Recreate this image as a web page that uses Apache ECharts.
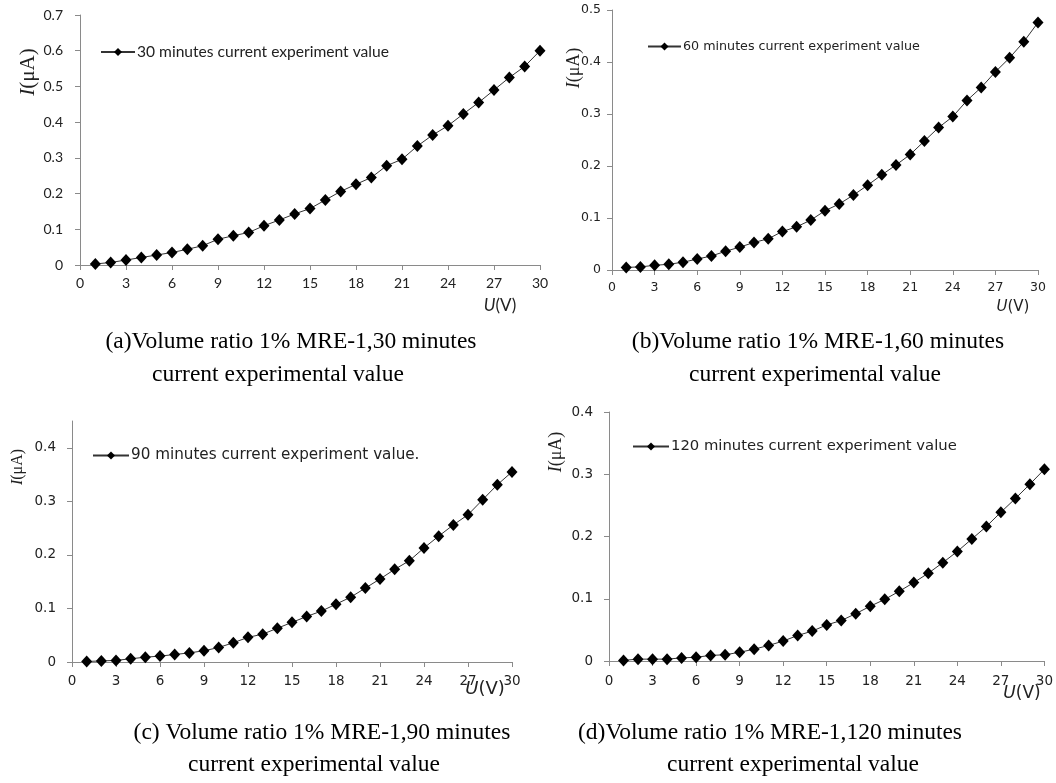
<!DOCTYPE html>
<html>
<head>
<meta charset="utf-8">
<title>I–U curves, volume ratio 1% MRE-1</title>
<script src="https://cdn.jsdelivr.net/npm/echarts@6/dist/echarts.min.js"></script>
<style>
  html, body { margin: 0; padding: 0; background: #ffffff; }
  #chart { width: 1056px; height: 783px; }
</style>
</head>
<body>
<div id="chart"></div>
<script>
// Applied voltage U (V)
const voltage = [1,2,3,4,5,6,7,8,9,10,11,12,13,14,15,16,17,18,19,20,21,22,23,24,25,26,27,28,29,30];

// Measured current I (µA) after each soaking time
const current30 = [0.003,0.007,0.014,0.021,0.028,0.035,0.044,0.054,0.072,0.082,0.091,0.110,0.126,0.143,0.158,
                   0.182,0.206,0.226,0.245,0.278,0.296,0.333,0.364,0.390,0.423,0.455,0.490,0.525,0.556,0.600];
const current60 = [0.005,0.006,0.009,0.011,0.015,0.021,0.027,0.036,0.044,0.053,0.060,0.074,0.083,0.096,0.114,
                   0.127,0.144,0.163,0.183,0.202,0.222,0.248,0.274,0.295,0.326,0.351,0.381,0.408,0.439,0.476];
const current90 = [0.001,0.002,0.003,0.006,0.009,0.011,0.014,0.017,0.021,0.027,0.036,0.046,0.052,0.063,0.074,
                   0.085,0.095,0.108,0.121,0.138,0.155,0.173,0.189,0.213,0.235,0.256,0.275,0.303,0.331,0.355];
const current120 = [0.001,0.003,0.003,0.003,0.005,0.006,0.009,0.010,0.014,0.019,0.025,0.032,0.041,0.048,0.058,
                    0.065,0.076,0.088,0.099,0.112,0.126,0.141,0.158,0.176,0.196,0.216,0.239,0.261,0.284,0.308];

// Axis ticks
const xTicks = [0,3,6,9,12,15,18,21,24,27,30];
const yTicks30 = [0,0.1,0.2,0.3,0.4,0.5,0.6,0.7];
const yTicks60 = [0,0.1,0.2,0.3,0.4,0.5];
const yTicks90 = [0,0.1,0.2,0.3,0.4];
const yTicks120 = [0,0.1,0.2,0.3,0.4];

// Legend names and captions
const seriesNames = [
  '30 minutes current experiment value',
  '60 minutes current experiment value',
  '90 minutes current experiment value.',
  '120 minutes current experiment value'
];
const captions = [
  ['(a)Volume ratio 1% MRE-1,30 minutes', 'current experimental value'],
  ['(b)Volume ratio 1% MRE-1,60 minutes', 'current experimental value'],
  ['(c) Volume ratio 1% MRE-1,90 minutes', 'current experimental value'],
  ['(d)Volume ratio 1% MRE-1,120 minutes', 'current experimental value']
];

// Layout of the four panels
const panels = [
  { data: current30,  yTicks: yTicks30,  yMax: 0.7,  grid: { left: 80,  top: 15,  width: 460, height: 250 },
    font: 'Lato', fs: 14, yMargin: 17, xMargin: 11,
    legend: { left: 100, top: 44, w: 34, fs: 15.6 },
    yName: [28, 72, 21], uName: [500, 306, 17],
    cap: [[291, 342], [278, 375]] },
  { data: current60,  yTicks: yTicks60,  yMax: 0.5,  grid: { left: 612, top: 10,  width: 426, height: 260 },
    font: 'DejaVu Sans', fs: 12.5, yMargin: 11, xMargin: 11,
    legend: { left: 647, top: 40, w: 33, fs: 12.7 },
    yName: [574, 68, 18], uName: [1013, 307, 15],
    cap: [[818, 342], [815, 375]] },
  { data: current90,  yTicks: yTicks90,  yMax: 0.45, grid: { left: 72,  top: 421, width: 440, height: 241 },
    font: 'DejaVu Sans', fs: 13.5, yMargin: 16, xMargin: 12,
    legend: { left: 92,  top: 448, w: 36, fs: 15.2 },
    yName: [18, 467, 16], uName: [485, 689, 18],
    cap: [[322, 733], [314, 765]] },
  { data: current120, yTicks: yTicks120, yMax: 0.4,  grid: { left: 609, top: 412, width: 436, height: 249 },
    font: 'DejaVu Sans', fs: 13.5, yMargin: 16, xMargin: 13,
    legend: { left: 632, top: 439, w: 36, fs: 14.8 },
    yName: [556, 452, 18], uName: [1022, 694, 17],
    cap: [[770, 733], [793, 765]] }
];

const axisGray = '#8a8a8a';
const textDark = '#222222';

const option = {
  backgroundColor: '#ffffff',
  animation: false,
  grid: [], xAxis: [], yAxis: [], series: [], legend: [], graphic: []
};

panels.forEach((p, i) => {
  option.grid.push(Object.assign({ containLabel: false }, p.grid));

  option.xAxis.push({
    type: 'value', gridIndex: i, min: 0, max: 30, interval: 3,
    axisLine: { show: true, onZero: false, lineStyle: { color: axisGray, width: 1 } },
    axisTick: { show: true, length: 5, lineStyle: { color: axisGray } },
    axisLabel: { margin: p.xMargin, color: textDark, fontFamily: p.font, fontSize: p.fs,
                 customValues: xTicks },
    splitLine: { show: false }
  });

  option.yAxis.push({
    type: 'value', gridIndex: i, min: 0, max: p.yMax, interval: 0.1,
    axisLine: { show: true, onZero: false, lineStyle: { color: axisGray, width: 1 } },
    axisTick: { show: true, length: 5, lineStyle: { color: axisGray }, customValues: p.yTicks },
    axisLabel: { margin: p.yMargin, color: textDark, fontFamily: p.font, fontSize: p.fs,
                 customValues: p.yTicks,
                 formatter: v => (v === 0 ? '0' : v.toFixed(1)) },
    splitLine: { show: false }
  });

  option.series.push({
    type: 'line', name: seriesNames[i], xAxisIndex: i, yAxisIndex: i,
    data: voltage.map((u, k) => [u, p.data[k]]),
    symbol: 'diamond', symbolSize: [11, 12],
    itemStyle: { color: '#000000' },
    lineStyle: { color: '#333333', width: 1 },
    emphasis: { disabled: true }
  });

  option.legend.push({
    data: [seriesNames[i]],
    left: p.legend.left, top: p.legend.top, padding: 0,
    itemWidth: p.legend.w, itemHeight: 10,
    textStyle: { color: textDark, fontFamily: p.font, fontSize: p.legend.fs, padding: [0, 0, 0, -3] },
    selectedMode: false
  });

  // Axis titles
  const ny = p.yName[2];
  option.graphic.push({
    type: 'text', x: p.yName[0], y: p.yName[1], rotation: Math.PI / 2,
    style: {
      text: '{i|I}(μA)', align: 'center', verticalAlign: 'middle',
      fill: textDark, font: ny + 'px "Liberation Serif"',
      rich: { i: { fontStyle: 'italic', fontFamily: 'Liberation Serif', fontSize: ny, fill: textDark } }
    }
  });
  const nu = p.uName[2];
  option.graphic.push({
    type: 'text', x: p.uName[0], y: p.uName[1],
    style: {
      text: '{i|U}(V)', align: 'center', verticalAlign: 'middle',
      fill: textDark, font: nu + 'px "' + p.font + '"',
      rich: { i: { fontStyle: 'italic', fontFamily: p.font, fontSize: nu, fill: textDark } }
    }
  });

  // Panel captions
  captions[i].forEach((line, j) => {
    option.graphic.push({
      type: 'text', x: p.cap[j][0], y: p.cap[j][1],
      style: { text: line, align: 'center', verticalAlign: 'middle',
               fill: '#000000', font: '23.5px "Liberation Serif"' }
    });
  });
});

const chart = echarts.init(document.getElementById('chart'), null, { renderer: 'canvas' });
chart.setOption(option);
</script>
</body>
</html>
